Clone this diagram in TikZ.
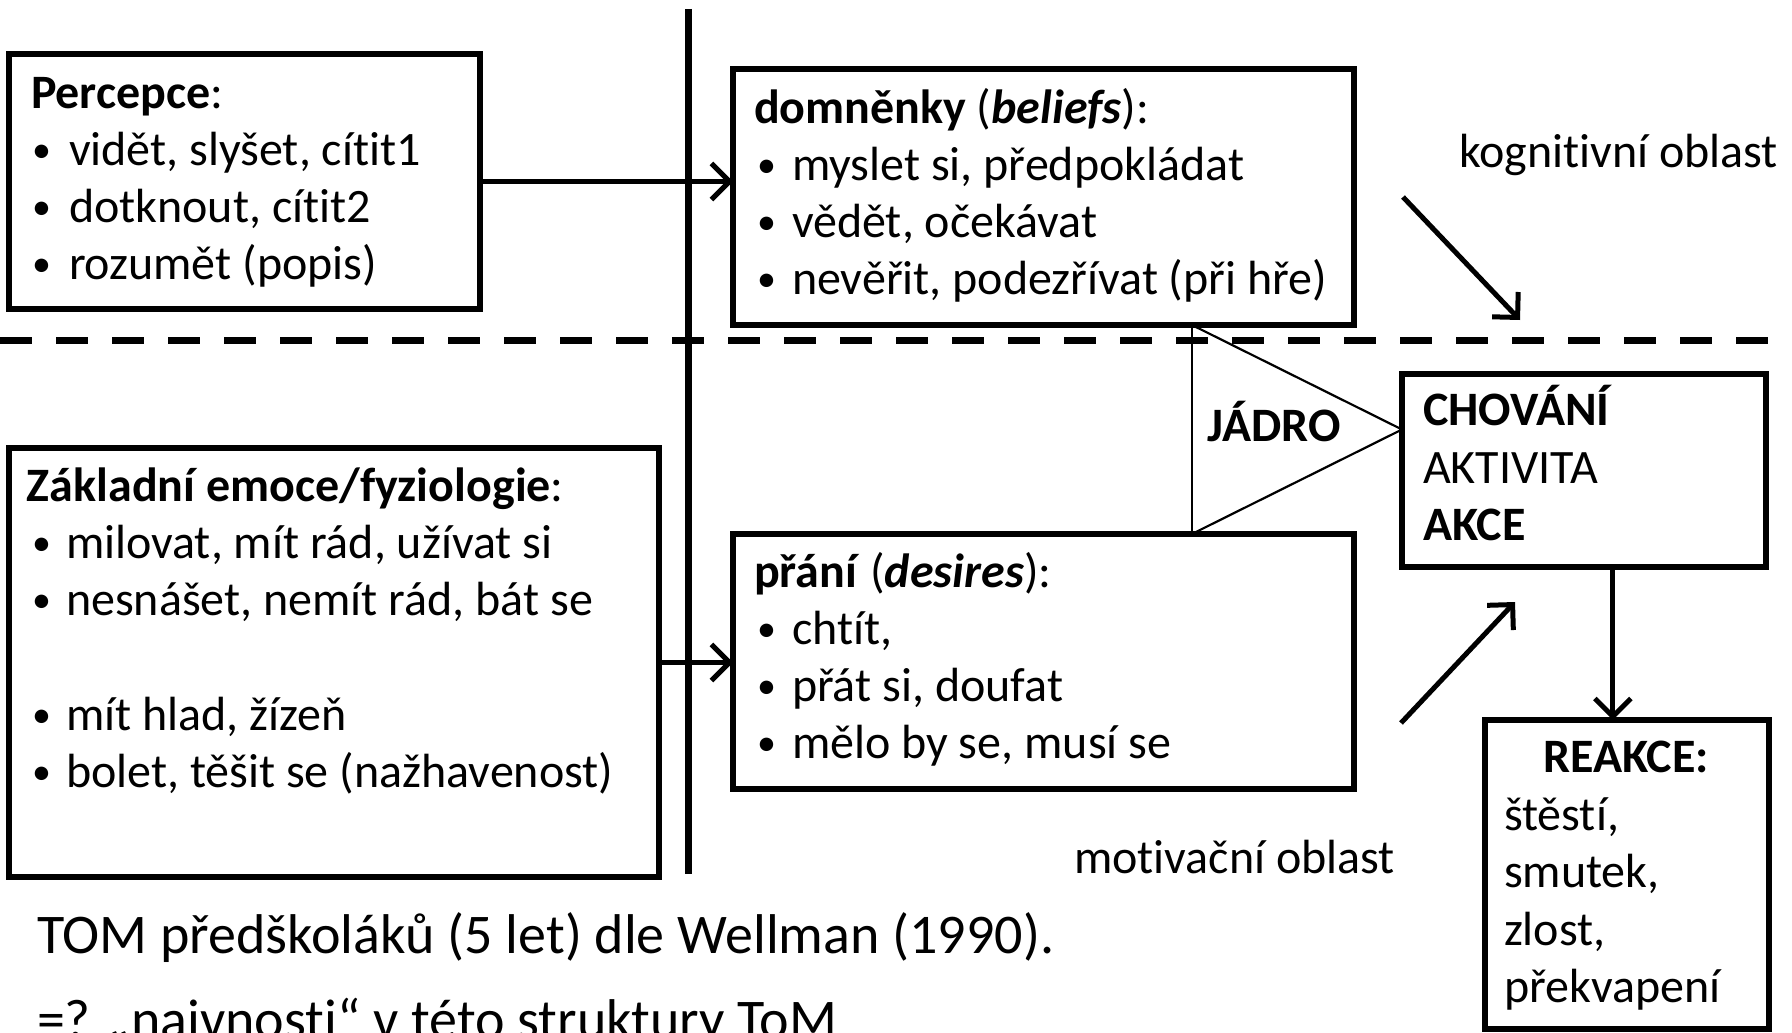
\documentclass[tikz,border=0pt]{standalone}
\usepackage{fontspec}
\setmainfont{Carlito}[Ligatures={NoCommon,NoContextual},Contextuals=NoAlternate]
\newcommand\tiNL{t\kern0pt i}
\usetikzlibrary{arrows.meta,calc}
\begin{document}
\begin{tikzpicture}[x=1pt,y=-1pt,
  box/.style={draw=black,line width=6pt,rectangle,inner sep=0pt,outer sep=0pt},
  txt/.style={anchor=base west,inner sep=0pt,outer sep=0pt,font=\fontsize{48}{57}\selectfont},
  bul/.style={anchor=base west,inner sep=0pt,outer sep=0pt,font=\fontsize{38}{57}\selectfont},
  bigtxt/.style={anchor=base west,inner sep=0pt,outer sep=0pt,font=\fontsize{56}{66}\selectfont},
  arr/.style={line width=5pt,-{Straight Barb[length=18pt,width=36pt,line width=5pt]}},
  thinline/.style={line width=2.2pt},
  divider/.style={line width=7pt},
  dashdiv/.style={line width=7pt,dash pattern=on 32pt off 24pt}
]
\fill[white] (0,0) rectangle (1792,1033);
\useasboundingbox (0,0) rectangle (1792,1033);

% dividers
\coordinate (dl) at (0,340);
\coordinate (dr) at (1792,340);
\draw[dashdiv] (dl) -- (dr);
\coordinate (vt) at (688,9);
\coordinate (vb) at (688,874);
\draw[divider] (vt) -- (vb);

% boxes
\node[box,minimum width=471pt,minimum height=255pt] (perc) at (244.5,181.5) {};
\node[box,minimum width=621pt,minimum height=256pt] (domn) at (1043.5,197) {};
\node[box,minimum width=650pt,minimum height=429pt] (zakl) at (334,662.5) {};
\node[box,minimum width=621pt,minimum height=255pt] (pran) at (1043.5,661.5) {};
\node[box,minimum width=364pt,minimum height=193pt] (chov) at (1584,470.5) {};
\node[box,minimum width=284pt,minimum height=309pt] (reak) at (1627,874.5) {};

% Percepce
\node[txt] (p0) at (31,108) {\textbf{Percepce}:};
\node[bul] (p1b) at (32,162) {•};
\node[txt] (p1) at (69,165) {vidět, slyšet, cí\tiNL{}t1};
\node[bul] (p2b) at (32,219) {•};
\node[txt] (p2) at (69,222) {dotknout, cí\tiNL{}t2};
\node[bul] (p3b) at (32,276) {•};
\node[txt] (p3) at (69,279) {rozumět (popis)};

% domnenky
\node[txt] (d0) at (754,123) {\textbf{domněnky} (\textbf{\itshape beliefs}):};
\node[bul] (d1b) at (757,177) {•};
\node[txt] (d1) at (792,180) {myslet si, předpokládat};
\node[bul] (d2b) at (757,234) {•};
\node[txt] (d2) at (792,237) {vědět, očekávat};
\node[bul] (d3b) at (757,291) {•};
\node[txt] (d3) at (792,294) {nevěřit, podezřívat (při hře)};

% Zakladni emoce
\node[txt] (z0) at (27,501) {\textbf{Základní emoce/fyziologie}:};
\node[bul] (z1b) at (32,555) {•};
\node[txt] (z1) at (66,558) {milovat, mít rád, užívat si};
\node[bul] (z2b) at (32,612) {•};
\node[txt] (z2) at (66,615) {nesnášet, nemít rád, bát se};
\node[bul] (z3b) at (32,727) {•};
\node[txt] (z3) at (66,730) {mít hlad, žízeň};
\node[bul] (z4b) at (32,784) {•};
\node[txt] (z4) at (66,787) {bolet, těšit se (nažhavenost)};

% prani
\node[txt] (r0) at (754,587) {\textbf{přání} (\textbf{\itshape desires}):};
\node[bul] (r1b) at (757,641) {•};
\node[txt] (r1) at (792,644) {chtít,};
\node[bul] (r2b) at (757,698) {•};
\node[txt] (r2) at (792,701) {přát si, doufat};
\node[bul] (r3b) at (757,755) {•};
\node[txt] (r3) at (792,758) {mělo by se, musí se};

% chovani
\node[txt] (c1) at (1423,425) {\textbf{CHOVÁNÍ}};
\node[txt] (c2) at (1423,483) {AKTIVITA};
\node[txt] (c3) at (1423,540) {\textbf{AKCE}};

% reakce
\node[txt,anchor=base] (k0) at (1626,772) {\textbf{REAKCE:}};
\node[txt] (k1t) at (1504,830) {štěstí,};
\node[txt] (k2t) at (1504,887) {smutek,};
\node[txt] (k3t) at (1504,945) {zlost,};
\node[txt] (k4t) at (1504,1002) {překvapení};

% labels
\node[txt] (kog) at (1459,167) {kogni\tiNL{}vní oblast};
\node[txt] (mot) at (1074,873) {mo\tiNL{}vační oblast};
\node[bigtxt] (tom) at (37,953) {TOM předškoláků (5 let) dle Wellman (1990).};
\node[bigtxt] (naiv) at (37,1038) {=? „naivnos\tiNL{}“ v této struktury ToM};

% JADRO triangle
\coordinate (jt) at ($(domn.south west)!0.739!(domn.south east)$);
\coordinate (jb) at (jt |- pran.north);
\coordinate (jm) at ($(jt)!0.5!(jb)$);
\coordinate (apex) at (jm -| chov.west);
\draw[thinline] (jt) -- (jb);
\draw[thinline] (jt) -- (apex);
\draw[thinline] (jb) -- (apex);
\node[txt,anchor=base,font=\fontsize{48}{57}\selectfont\bfseries] (jadro) at (1274,441) {JÁDRO};

% arrows
\draw[arr] (perc.east) -- (perc.east -| domn.west);
\draw[arr] (zakl.east) -- (zakl.east -| pran.west);
\coordinate (rtop) at ($(reak.north west)!0.45!(reak.north east)$);
\draw[arr] (rtop |- chov.south) -- (rtop);
\coordinate (ka) at (1403,197);
\coordinate (kb) at (1520,320);
\draw[arr] (ka) -- (kb);
\coordinate (ma) at (1401,723);
\coordinate (mb) at (1515,602);
\draw[arr] (ma) -- (mb);
\end{tikzpicture}
\end{document}
